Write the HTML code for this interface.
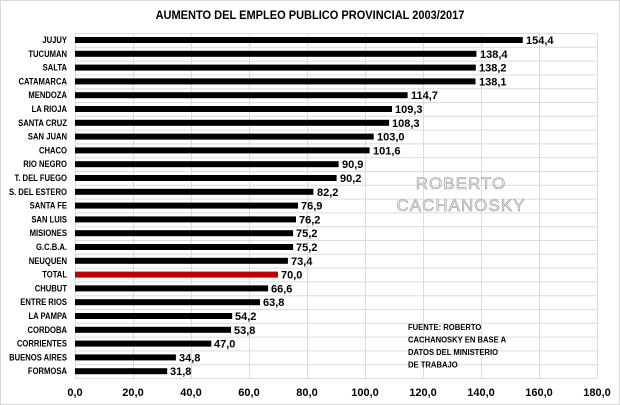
<!DOCTYPE html>
<html><head><meta charset="utf-8"><style>
html,body{margin:0;padding:0;background:#fff;}
svg{display:block;font-family:"Liberation Sans",sans-serif;}
</style></head><body>
<svg width="620" height="405" viewBox="0 0 620 405" xmlns="http://www.w3.org/2000/svg">
<rect x="0.5" y="0.5" width="619" height="404" fill="#fff" stroke="#d9d9d9"/>
<text x="310" y="19" text-anchor="middle" font-size="12" font-weight="bold" fill="#000" transform="translate(310 0) scale(0.92 1) translate(-310 0)">AUMENTO  DEL EMPLEO PUBLICO PROVINCIAL 2003/2017</text>
<g stroke="#dcdcdc" stroke-width="1">
<line x1="75" y1="33.5" x2="597" y2="33.5"/><line x1="75" y1="47.3" x2="597" y2="47.3"/><line x1="75" y1="61.1" x2="597" y2="61.1"/><line x1="75" y1="74.9" x2="597" y2="74.9"/><line x1="75" y1="88.7" x2="597" y2="88.7"/><line x1="75" y1="102.5" x2="597" y2="102.5"/><line x1="75" y1="116.3" x2="597" y2="116.3"/><line x1="75" y1="130.1" x2="597" y2="130.1"/><line x1="75" y1="143.9" x2="597" y2="143.9"/><line x1="75" y1="157.7" x2="597" y2="157.7"/><line x1="75" y1="171.5" x2="597" y2="171.5"/><line x1="75" y1="185.3" x2="597" y2="185.3"/><line x1="75" y1="199.1" x2="597" y2="199.1"/><line x1="75" y1="212.9" x2="597" y2="212.9"/><line x1="75" y1="226.7" x2="597" y2="226.7"/><line x1="75" y1="240.5" x2="597" y2="240.5"/><line x1="75" y1="254.3" x2="597" y2="254.3"/><line x1="75" y1="268.1" x2="597" y2="268.1"/><line x1="75" y1="281.9" x2="597" y2="281.9"/><line x1="75" y1="295.7" x2="597" y2="295.7"/><line x1="75" y1="309.5" x2="597" y2="309.5"/><line x1="75" y1="323.3" x2="597" y2="323.3"/><line x1="75" y1="337.1" x2="597" y2="337.1"/><line x1="75" y1="350.9" x2="597" y2="350.9"/><line x1="75" y1="364.7" x2="597" y2="364.7"/><line x1="75" y1="378.5" x2="597" y2="378.5"/>
<line x1="75.5" y1="33" x2="75.5" y2="378"/><line x1="133.5" y1="33" x2="133.5" y2="378"/><line x1="191.5" y1="33" x2="191.5" y2="378"/><line x1="249.5" y1="33" x2="249.5" y2="378"/><line x1="307.5" y1="33" x2="307.5" y2="378"/><line x1="365.5" y1="33" x2="365.5" y2="378"/><line x1="423.5" y1="33" x2="423.5" y2="378"/><line x1="481.5" y1="33" x2="481.5" y2="378"/><line x1="539.5" y1="33" x2="539.5" y2="378"/><line x1="597.5" y1="33" x2="597.5" y2="378"/>
</g>
<g transform="translate(67 0) scale(0.85 1)">
<g font-size="9" font-weight="bold" fill="#000" text-anchor="end">
<text x="0" y="43">JUJUY</text><text x="0" y="56.8">TUCUMAN</text><text x="0" y="70.6">SALTA</text><text x="0" y="84.4">CATAMARCA</text><text x="0" y="98.2">MENDOZA</text><text x="0" y="112">LA RIOJA</text><text x="0" y="125.8">SANTA CRUZ</text><text x="0" y="139.6">SAN JUAN</text><text x="0" y="153.4">CHACO</text><text x="0" y="167.2">RIO NEGRO</text><text x="0" y="181">T. DEL FUEGO</text><text x="0" y="194.8">S. DEL ESTERO</text><text x="0" y="208.6">SANTA FE</text><text x="0" y="222.4">SAN LUIS</text><text x="0" y="236.2">MISIONES</text><text x="0" y="250">G.C.B.A.</text><text x="0" y="263.8">NEUQUEN</text><text x="0" y="277.6">TOTAL</text><text x="0" y="291.4">CHUBUT</text><text x="0" y="305.2">ENTRE RIOS</text><text x="0" y="319">LA PAMPA</text><text x="0" y="332.8">CORDOBA</text><text x="0" y="346.6">CORRIENTES</text><text x="0" y="360.4">BUENOS AIRES</text><text x="0" y="374.2">FORMOSA</text>
</g></g>
<g fill="#000">
<rect x="75" y="37" width="447.8" height="6"/><rect x="75" y="50.8" width="401.4" height="6"/><rect x="75" y="64.6" width="400.8" height="6"/><rect x="75" y="78.4" width="400.5" height="6"/><rect x="75" y="92.2" width="332.6" height="6"/><rect x="75" y="106" width="317" height="6"/><rect x="75" y="119.8" width="314.1" height="6"/><rect x="75" y="133.6" width="298.7" height="6"/><rect x="75" y="147.4" width="294.6" height="6"/><rect x="75" y="161.2" width="263.6" height="6"/><rect x="75" y="175" width="261.6" height="6"/><rect x="75" y="188.8" width="238.4" height="6"/><rect x="75" y="202.6" width="223" height="6"/><rect x="75" y="216.4" width="221" height="6"/><rect x="75" y="230.2" width="218.1" height="6"/><rect x="75" y="244" width="218.1" height="6"/><rect x="75" y="257.8" width="212.9" height="6"/><rect x="75" y="271.6" width="203" height="6" fill="#c00000"/><rect x="75" y="285.4" width="193.1" height="6"/><rect x="75" y="299.2" width="185" height="6"/><rect x="75" y="313" width="157.2" height="6"/><rect x="75" y="326.8" width="156" height="6"/><rect x="75" y="340.6" width="136.3" height="6"/><rect x="75" y="354.4" width="100.9" height="6"/><rect x="75" y="368.2" width="92.2" height="6"/>
</g>
<g font-size="11" font-weight="bold" fill="#000">
<text x="526" y="44">154,4</text><text x="480" y="57.8">138,4</text><text x="479" y="71.6">138,2</text><text x="479" y="85.4">138,1</text><text x="411" y="99.2">114,7</text><text x="395" y="113">109,3</text><text x="392" y="126.8">108,3</text><text x="377" y="140.6">103,0</text><text x="373" y="154.4">101,6</text><text x="342" y="168.2">90,9</text><text x="340" y="182">90,2</text><text x="317" y="195.8">82,2</text><text x="301" y="209.6">76,9</text><text x="299" y="223.4">76,2</text><text x="296" y="237.2">75,2</text><text x="296" y="251">75,2</text><text x="291" y="264.8">73,4</text><text x="281" y="278.6">70,0</text><text x="271" y="292.4">66,6</text><text x="263" y="306.2">63,8</text><text x="235" y="320">54,2</text><text x="234" y="333.8">53,8</text><text x="214" y="347.6">47,0</text><text x="179" y="361.4">34,8</text><text x="170" y="375.2">31,8</text>
</g>
<g font-size="11" font-weight="bold" fill="#000" text-anchor="middle">
<text x="75" y="396">0,0</text><text x="133" y="396">20,0</text><text x="191" y="396">40,0</text><text x="249" y="396">60,0</text><text x="307" y="396">80,0</text><text x="365" y="396">100,0</text><text x="423" y="396">120,0</text><text x="481" y="396">140,0</text><text x="539" y="396">160,0</text><text x="597" y="396">180,0</text>
</g>
<g font-size="17" fill="#ececec" stroke="#9a9a9a" stroke-width="0.6" text-anchor="middle" letter-spacing="1">
<text x="461" y="189">ROBERTO</text><text x="461" y="211">CACHANOSKY</text>
</g>
<g font-size="8.5" font-weight="bold" fill="#000" transform="translate(408 0) scale(0.9 1)">
<text x="0" y="330">FUENTE: ROBERTO</text><text x="0" y="342.5">CACHANOSKY EN BASE A</text><text x="0" y="355">DATOS DEL MINISTERIO</text><text x="0" y="367.5">DE TRABAJO</text>
</g>
</svg>
</body></html>
